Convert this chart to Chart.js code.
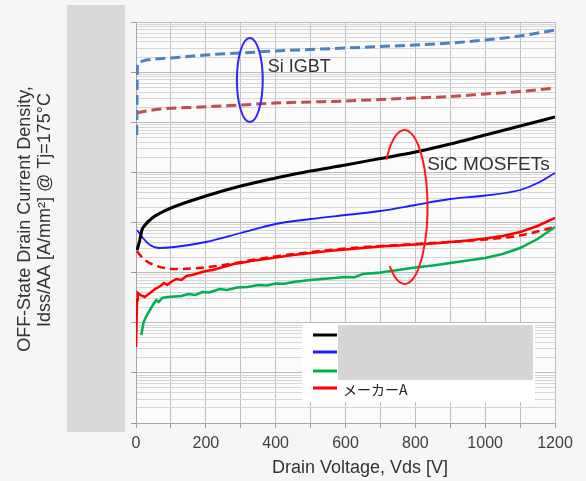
<!DOCTYPE html>
<html><head><meta charset="utf-8">
<script src="https://cdn.jsdelivr.net/npm/chart.js@4.4.1/dist/chart.umd.min.js"></script>
<style>
html,body{margin:0;padding:0;background:#f6f6f6;}
#wrap{width:586px;height:481px;position:relative;}
canvas{display:block;}
</style></head><body>
<div id="wrap"><canvas id="c" width="586" height="481"></canvas></div>
<script>
// ---------------- data ----------------
const xTickLabels = ['0','','200','','400','','600','','800','','1000','','1200'];
const yDecadeExp = [-9,-8,-7,-6,-5,-4,-3,-2,-1];   // log axis decades (labels masked in source)

const xAxisTitle = 'Drain Voltage, Vds [V]';
const yAxisTitle = ['OFF-State Drain Current Density,', 'Idss/AA [A/mm\u00B2] @ Tj=175\u00B0C'];
const groupLabels = ['Si IGBT', 'SiC MOSFETs'];
const legendLabels = ['', '', '', 'メーカーA'];   // first three names are masked in the source

// Si IGBT (blue dashed)
const vIgbtBlue = [2,4,10,30,100,200,300,400,500,600,700,800,900,1000,1100,1200];
const iIgbtBlue = [5.57e-4,1.324e-2,1.592e-2,1.746e-2,1.914e-2,2.198e-2,2.410e-2,2.636e-2,2.825e-2,3.027e-2,3.243e-2,3.475e-2,3.81e-2,4.375e-2,5.26e-2,6.92e-2];
// Si IGBT (dark red dashed)
const vIgbtRed = [2,30,70,185,300,400,500,600,700,800,900,1000,1100,1200];
const iIgbtRed = [1.529e-3,1.676e-3,1.838e-3,2.015e-3,2.209e-3,2.421e-3,2.535e-3,2.655e-3,2.844e-3,3.048e-3,3.266e-3,3.664e-3,4.111e-3,4.82e-3];
// SiC MOSFET (black)
const vSicBlack = [3,11,17,26,50,70,100,200,300,400,500,600,700,800,900,1000,1100,1200];
const iSicBlack = [2.828e-6,4.476e-6,7.087e-6,8.916e-6,1.288e-5,1.547e-5,1.947e-5,3.378e-5,5.35e-5,7.72e-5,1.065e-4,1.403e-4,1.891e-4,2.55e-4,3.683e-4,5.565e-4,8.417e-4,1.273e-3];
// SiC MOSFET (blue)
const vSicBlue = [3,20,40,65,110,200,300,400,500,600,700,800,900,1000,1100,1150,1200];
const iSicBlue = [7.087e-6,4.907e-6,3.557e-6,3.099e-6,3.245e-6,4.083e-6,6.173e-6,9.335e-6,1.174e-5,1.411e-5,1.696e-5,2.234e-5,2.942e-5,3.457e-5,4.449e-5,6.138e-5,9.716e-5];
// SiC MOSFET (green)
const vSicGreen = [15,22,30,40,50,58,65,75,90,110,130,150,170,190,210,240,260,290,320,350,375,400,425,450,500,550,600,625,650,700,750,800,850,900,950,1000,1050,1100,1150,1200];
const iSicGreen = [5.696e-8,1.035e-7,1.364e-7,1.796e-7,2.366e-7,2.844e-7,2.594e-7,3.117e-7,3.263e-7,3.339e-7,3.417e-7,3.746e-7,3.577e-7,4.106e-7,4.013e-7,4.713e-7,4.501e-7,5.049e-7,5.167e-7,5.664e-7,5.55e-7,6.067e-7,6.00e-7,6.501e-7,7.127e-7,7.636e-7,8.179e-7,8.05e-7,9.389e-7,1.006e-6,1.128e-6,1.265e-6,1.387e-6,1.556e-6,1.746e-6,1.958e-6,2.352e-6,3.099e-6,4.687e-6,8.133e-6];
// SiC MOSFET メーカーA (red dashed)
const vMakerADash = [2,25,60,110,180,250,350,500,600,700,800,900,1000,1100,1200];
const iMakerADash = [2.700e-6,1.786e-6,1.356e-6,1.181e-6,1.237e-6,1.420e-6,1.870e-6,2.579e-6,3.029e-6,3.399e-6,3.725e-6,4.083e-6,4.579e-6,5.503e-6,8.133e-6];
// SiC MOSFET メーカーA (red solid)
const vMakerA = [0,3,5,12,25,40,55,70,80,90,100,115,130,145,160,180,200,220,250,280,300,330,360,400,450,500,550,600,650,700,750,800,850,900,950,1000,1050,1100,1150,1200];
const iMakerA = [3.282e-8,2.844e-7,3.922e-7,3.577e-7,3.263e-7,3.922e-7,4.713e-7,5.410e-7,6.209e-7,5.664e-7,6.501e-7,7.462e-7,7.127e-7,8.564e-7,8.966e-7,9.829e-7,1.077e-6,1.128e-6,1.295e-6,1.486e-6,1.556e-6,1.706e-6,1.827e-6,2.003e-6,2.247e-6,2.463e-6,2.700e-6,2.892e-6,3.099e-6,3.320e-6,3.476e-6,3.640e-6,3.811e-6,4.083e-6,4.374e-6,4.796e-6,5.379e-6,6.464e-6,8.517e-6,1.230e-5];

// annotation anchors in data units
const igbtLoop = {x0: 289, x1: 363, yTop: 4.8e-2, yBot: 1.01e-3};
const sicLoop  = {x0: 703, x1: 835, yTop: 7.0e-4, yBot: 5.93e-7};
const igbtText = {x: 377, y: 1.265e-2};
const sicText  = {x: 834, y: 1.45e-4};

// ---------------- chart ----------------
const FONT = '"Liberation Sans", Arial, sans-serif';
const pts = (xs, ys) => xs.map((x, i) => ({x, y: ys[i]}));
const isMajor = v => { const e = Math.floor(Math.log10(v) + 1e-9); return Math.abs(v / Math.pow(10, e) - 1) < 1e-6; };

const ds = (label, xs, ys, color, width, dash, smooth) => ({
  label, data: pts(xs, ys), borderColor: color, backgroundColor: color,
  borderWidth: width, borderDash: dash || [], pointRadius: 0, fill: false,
  tension: 0, cubicInterpolationMode: smooth ? 'monotone' : 'default'
});

const datasets = [
  ds('Si IGBT 1', vIgbtBlue, iIgbtBlue, '#4f81bd', 3, [10, 5], true),
  ds('Si IGBT 2', vIgbtRed, iIgbtRed, '#c0504d', 3, [10, 5], true),
  ds('SiC MOSFET 1', vSicBlack, iSicBlack, '#000000', 3, null, true),
  ds('SiC MOSFET 2', vSicBlue, iSicBlue, '#1c1cff', 1.8, null, true),
  ds('SiC MOSFET 3', vSicGreen, iSicGreen, '#00b050', 2.5, null, false),
  ds('メーカーA (dashed)', vMakerADash, iMakerADash, '#ff0000', 2.5, [8, 5], true),
  ds('メーカーA', vMakerA, iMakerA, '#ff0000', 2.5, null, false)
];
const legendDatasets = [2, 3, 4, 6];

const bgPlugin = {
  id: 'bg',
  beforeDraw(chart) {
    const {ctx, chartArea: a} = chart;
    ctx.save();
    ctx.fillStyle = '#f6f6f6';
    ctx.fillRect(0, 0, chart.width, chart.height);
    ctx.fillStyle = '#fbfbfb';
    ctx.fillRect(a.left, a.top, a.right - a.left, a.bottom - a.top);
    ctx.restore();
  }
};

const overlayPlugin = {
  id: 'overlay',
  afterDraw(chart) {
    const {ctx, chartArea: a, scales: {x, y}} = chart;
    ctx.save();
    // masked y tick label column
    ctx.fillStyle = '#d9d9d9';
    ctx.fillRect(67, 5, 58, 427);

    // axis titles
    ctx.fillStyle = '#333333';
    ctx.font = '18px ' + FONT;
    ctx.textAlign = 'center';
    ctx.textBaseline = 'middle';
    ctx.fillText(xAxisTitle, 360, 468);
    ctx.save();
    ctx.translate(25, 219); ctx.rotate(-Math.PI / 2);
    ctx.fillText(yAxisTitle[0], 0, 0);
    ctx.restore();
    ctx.save();
    ctx.translate(45, 210); ctx.rotate(-Math.PI / 2);
    ctx.fillText(yAxisTitle[1], 0, 0);
    ctx.restore();

    // group labels
    ctx.textAlign = 'left';
    ctx.fillStyle = '#333333';
    ctx.fillText(groupLabels[0], x.getPixelForValue(igbtText.x), y.getPixelForValue(igbtText.y));
    ctx.font = '19px ' + FONT;
    ctx.fillText(groupLabels[1], x.getPixelForValue(sicText.x), y.getPixelForValue(sicText.y));

    // blue loop around Si IGBT
    let x0 = x.getPixelForValue(igbtLoop.x0), x1 = x.getPixelForValue(igbtLoop.x1);
    let t = y.getPixelForValue(igbtLoop.yTop), b = y.getPixelForValue(igbtLoop.yBot);
    ctx.strokeStyle = '#2a2aff'; ctx.lineWidth = 2;
    ctx.beginPath();
    ctx.ellipse((x0 + x1) / 2, (t + b) / 2, (x1 - x0) / 2, (b - t) / 2, 0, 0, Math.PI * 2);
    ctx.stroke();

    // red open loop around SiC MOSFETs
    x0 = x.getPixelForValue(sicLoop.x0); x1 = x.getPixelForValue(sicLoop.x1);
    t = y.getPixelForValue(sicLoop.yTop); b = y.getPixelForValue(sicLoop.yBot);
    ctx.strokeStyle = '#ff1a1a'; ctx.lineWidth = 2;
    ctx.beginPath();
    ctx.ellipse((x0 + x1) / 2, (t + b) / 2, (x1 - x0) / 2, (b - t) / 2, 0, 218 * Math.PI / 180, 130 * Math.PI / 180);
    ctx.stroke();

    // legend
    const lx = 302, ly = 323;
    ctx.fillStyle = '#ffffff';
    ctx.fillRect(lx, ly, 233, 79);
    const rowsY = [335, 352, 371, 388];
    legendDatasets.forEach((di, k) => {
      const d = chart.data.datasets[di];
      ctx.strokeStyle = d.borderColor; ctx.lineWidth = 3; ctx.setLineDash([]);
      ctx.beginPath(); ctx.moveTo(313, rowsY[k]); ctx.lineTo(337, rowsY[k]); ctx.stroke();
      if (legendLabels[k]) {
        ctx.fillStyle = '#222222';
        ctx.font = '14px "Noto Sans CJK JP", sans-serif';
        ctx.textAlign = 'left'; ctx.textBaseline = 'middle';
        ctx.fillText(legendLabels[k], 343, rowsY[k] + 2);
      }
    });
    ctx.fillStyle = '#d6d6d6';
    ctx.fillRect(338, 325, 195, 55);
    ctx.restore();
  }
};

new Chart(document.getElementById('c'), {
  type: 'line',
  data: {datasets},
  options: {
    responsive: false,
    animation: false,
    layout: {padding: {left: 11, top: 22, right: 31, bottom: 2}},
    plugins: {legend: {display: false}, tooltip: {enabled: false}},
    scales: {
      x: {
        type: 'linear', min: 0, max: 1200,
        ticks: {stepSize: 100, autoSkip: false, maxRotation: 0, padding: 6, color: '#404040',
                font: {family: FONT, size: 16}, callback: (v, i) => xTickLabels[i]},
        grid: {color: '#bfbfbf', lineWidth: 1, tickLength: 5, tickColor: '#a0a0a0'},
        border: {color: '#a8a8a8'},
        afterFit: s => { s.height = 56; }
      },
      y: {
        type: 'logarithmic', min: Math.pow(10, yDecadeExp[0]), max: Math.pow(10, yDecadeExp[yDecadeExp.length - 1]),
        afterBuildTicks: s => {
          const t = [];
          for (let k = 0; k < yDecadeExp.length - 1; k++)
            for (let m = 1; m <= 9; m++) t.push({value: m * Math.pow(10, yDecadeExp[k])});
          t.push({value: Math.pow(10, yDecadeExp[yDecadeExp.length - 1])});
          s.ticks = t;
        },
        ticks: {display: false},
        grid: {
          color: c => (c.tick && isMajor(c.tick.value)) ? '#bababa' : '#d6d6d6',
          lineWidth: 1, tickLength: 5,
          tickColor: c => (c.tick && isMajor(c.tick.value)) ? '#9a9a9a' : 'rgba(0,0,0,0)'
        },
        border: {color: '#a8a8a8'},
        afterFit: s => { s.width = 125; }
      }
    }
  },
  plugins: [bgPlugin, overlayPlugin]
});
</script>
</body></html>
